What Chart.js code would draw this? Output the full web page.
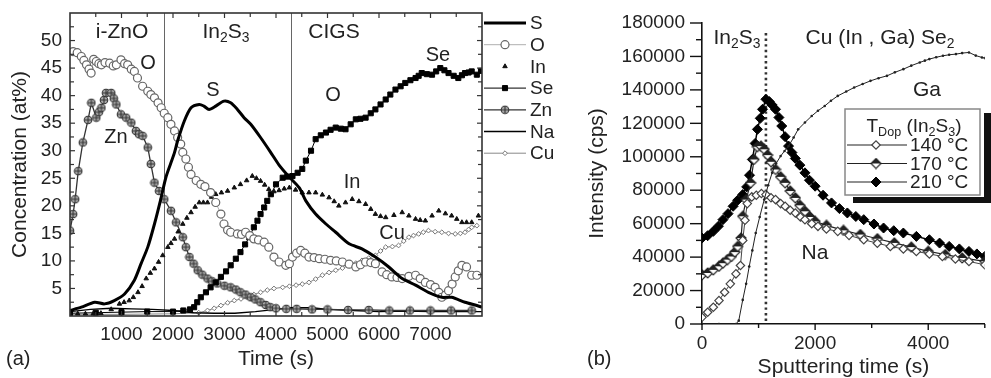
<!DOCTYPE html>
<html>
<head>
<meta charset="utf-8">
<script src="https://cdn.jsdelivr.net/npm/chart.js@4.4.0/dist/chart.umd.min.js"></script>
<style>
  html, body { margin: 0; padding: 0; background: #fff; }
  #wrap { position: relative; width: 991px; height: 378px; overflow: hidden; }
  #chartA { position: absolute; left: 0; top: 0; }
  #chartB { position: absolute; left: 580px; top: 0; }
</style>
</head>
<body>
<div id="wrap">
  <canvas id="chartA" width="560" height="378"></canvas>
  <canvas id="chartB" width="411" height="378"></canvas>
</div>
<script>
// ---- (a) depth profile, concentration (at%) vs time (s) ----
const S_pts = [[0,1.0],[220,1.6],[480,2.5],[670,2.2],[860,2.8],[1060,4.0],[1250,6.5],[1380,9.5],[1510,12.5],[1640,16.7],[1770,21.5],[1860,25.1],[1960,27.8],[2030,29.7],[2090,31.8],[2220,35.4],[2350,37.8],[2510,38.4],[2600,38.1],[2700,37.5],[2830,38.1],[2990,39.0],[3120,38.7],[3250,37.5],[3380,36.0],[3510,34.8],[3700,32.4],[3890,29.8],[4060,27.4],[4250,25.3],[4450,23.3],[4580,20.9],[4770,18.5],[4970,16.7],[5160,15.2],[5420,13.1],[5670,12.2],[5930,10.7],[6190,8.9],[6450,6.8],[6710,5.6],[6960,4.3],[7220,3.4],[7410,3.4],[7670,2.5],[7900,1.9],[8000,1.6]];
const O_pts = [[60,48.0],[140,47.8],[220,47.1],[270,46.4],[320,45.6],[370,44.8],[410,44.1],[460,46.6],[510,46.2],[560,45.8],[610,45.6],[680,46.0],[770,45.9],[840,45.4],[900,45.6],[990,46.5],[1060,45.8],[1120,45.6],[1190,44.8],[1250,44.4],[1310,43.2],[1410,41.7],[1510,40.8],[1570,40.2],[1640,39.6],[1710,38.7],[1770,37.8],[1830,36.8],[1900,36.0],[1960,34.8],[2030,33.6],[2090,32.4],[2150,31.2],[2190,29.7],[2250,28.5],[2300,27.0],[2350,25.7],[2450,24.6],[2540,23.9],[2620,23.5],[2730,22.4],[2830,20.6],[2930,18.5],[2990,16.7],[3060,15.6],[3120,15.2],[3250,14.9],[3330,14.8],[3410,15.2],[3490,14.6],[3570,14.0],[3660,13.8],[3770,13.4],[3860,12.5],[3960,10.7],[4060,9.8],[4190,9.2],[4260,9.5],[4320,10.7],[4400,11.4],[4480,11.9],[4560,11.4],[4640,10.7],[4740,10.6],[4840,10.4],[4950,10.3],[5060,10.1],[5170,10.0],[5290,9.8],[5420,9.4],[5550,8.9],[5640,9.3],[5740,9.8],[5840,9.7],[5930,9.5],[6060,8.0],[6150,7.5],[6250,7.1],[6350,7.0],[6450,6.8],[6580,7.2],[6710,7.4],[6800,6.8],[6900,6.1],[7000,5.7],[7090,5.2],[7160,4.3],[7220,3.4],[7290,3.8],[7350,4.6],[7420,5.8],[7480,7.1],[7540,8.2],[7610,9.2],[7700,8.9],[7800,7.4],[7900,7.4]];
const In_pts = [[0,0.4],[150,0.4],[300,0.4],[450,0.4],[600,0.5],[800,1.2],[960,2.2],[1050,2.5],[1150,2.8],[1230,3.4],[1320,4.3],[1400,5.4],[1480,6.8],[1560,7.8],[1640,8.6],[1720,9.8],[1800,11.0],[1900,12.5],[1960,13.2],[2030,14.0],[2100,15.3],[2190,16.7],[2270,17.8],[2350,18.8],[2430,19.8],[2510,20.6],[2590,20.6],[2670,20.6],[2750,21.6],[2830,22.1],[2940,22.4],[3060,22.7],[3190,23.3],[3310,23.9],[3430,24.6],[3540,25.4],[3620,25.0],[3700,24.5],[3780,23.8],[3860,23.0],[3960,22.6],[4060,22.8],[4160,23.1],[4260,23.3],[4380,22.9],[4510,22.4],[4640,22.4],[4770,22.4],[4900,22.0],[5030,21.5],[5130,20.8],[5220,20.0],[5350,20.6],[5480,21.2],[5610,20.8],[5740,20.3],[5840,19.4],[5930,18.5],[6030,18.1],[6130,17.9],[6290,18.3],[6450,18.8],[6580,18.2],[6710,17.6],[6800,17.4],[6900,17.3],[7030,18.2],[7160,19.1],[7290,18.6],[7410,18.2],[7510,17.6],[7610,17.0],[7700,17.0],[7800,17.0],[7930,18.2]];
const Se_pts = [[0,0.5],[500,0.6],[1000,0.7],[1500,0.8],[2000,0.8],[2200,1.0],[2330,1.2],[2410,1.6],[2470,2.5],[2540,3.4],[2640,4.3],[2730,5.2],[2830,6.1],[2930,7.1],[3030,8.1],[3120,9.2],[3220,10.4],[3310,11.6],[3400,13.0],[3480,14.3],[3570,16.1],[3640,17.3],[3700,18.5],[3770,19.7],[3830,20.9],[3900,22.1],[4000,23.9],[4130,25.1],[4220,25.3],[4320,25.4],[4420,26.0],[4510,26.7],[4580,28.2],[4680,30.0],[4770,32.1],[4870,32.8],[4970,33.3],[5060,33.8],[5160,34.2],[5260,34.0],[5350,33.9],[5450,34.8],[5550,35.7],[5640,35.8],[5740,36.0],[5840,36.8],[5930,37.5],[6030,38.4],[6130,39.3],[6220,40.2],[6320,41.1],[6420,41.7],[6510,42.3],[6610,42.8],[6710,43.2],[6770,43.6],[6830,44.1],[6930,43.9],[7030,43.8],[7110,44.4],[7190,45.0],[7270,44.6],[7350,44.1],[7450,43.6],[7540,43.2],[7610,43.7],[7670,44.1],[7740,44.2],[7800,44.4],[7900,43.8],[7980,44.5]];
const Zn_pts = [[0,15.5],[60,18.5],[100,21.2],[160,26.3],[250,31.5],[350,35.6],[415,38.7],[510,36.0],[560,37.0],[610,37.8],[660,39.2],[700,40.5],[800,40.5],[850,39.5],[900,38.4],[990,36.6],[1090,36.0],[1190,35.1],[1280,33.6],[1340,33.0],[1410,32.7],[1510,30.6],[1570,27.6],[1640,24.2],[1730,22.7],[1830,21.2],[1960,19.1],[2060,17.0],[2190,14.3],[2250,12.5],[2320,10.7],[2400,9.5],[2480,8.3],[2570,7.5],[2670,6.8],[2760,6.3],[2860,5.9],[3000,5.5],[3120,5.2],[3220,4.8],[3310,4.3],[3410,3.9],[3510,3.4],[3600,3.0],[3700,2.5],[3800,2.0],[3890,1.6],[4000,1.4],[4200,1.3],[4400,1.3],[4700,1.2],[5000,1.2],[5400,1.1],[5800,1.1],[6200,1.0],[6600,1.0],[7000,1.0],[7400,1.0],[7800,1.0]];
const Na_pts = [[0,0.8],[400,1.2],[800,1.4],[1200,1.3],[1600,1.2],[2000,1.0],[2400,0.6],[2800,0.5],[3200,0.5],[3600,0.8],[4000,1.2],[4300,1.5],[4700,1.5],[5000,1.2],[5500,1.0],[6000,0.8],[6500,0.9],[7000,0.8],[7500,0.8],[8000,0.8]];
const Cu_pts = [[0,0.3],[1000,0.3],[2000,0.4],[2500,0.6],[2670,1.0],[2800,1.4],[2930,1.9],[3060,2.4],[3190,2.8],[3320,3.1],[3440,3.4],[3570,3.9],[3700,4.3],[3830,4.7],[3960,5.0],[4130,5.2],[4260,5.4],[4390,5.6],[4510,5.8],[4640,6.1],[4770,6.7],[4900,7.4],[5030,7.9],[5160,8.3],[5290,8.7],[5420,9.2],[5550,9.6],[5670,10.1],[5800,10.5],[5930,11.0],[6030,11.8],[6130,12.5],[6260,12.6],[6380,12.8],[6480,13.6],[6580,14.3],[6670,14.6],[6770,14.9],[6860,15.2],[6960,15.5],[7090,15.3],[7220,15.2],[7350,15.0],[7480,14.9],[7580,15.0],[7670,15.2],[7740,15.7],[7800,16.1],[7900,16.4]];
const layerBounds = [1820, 4300];   // i-ZnO | In2S3 | CIGS

// ---- (b) Na / Ga intensity (cps) vs sputtering time (s) ----
const Ga_pts = [[0,0],[300,0],[600,0],[650,2000],[720,14400],[780,24000],[835,34400],[890,44000],[950,54400],[1020,64000],[1100,74400],[1170,83000],[1240,90400],[1310,96000],[1390,100400],[1460,103500],[1530,106400],[1620,111500],[1700,116400],[1820,120500],[1940,124400],[2050,127500],[2170,130400],[2280,133500],[2400,136400],[2550,139000],[2690,141400],[2840,143500],[2980,145400],[3120,147000],[3270,148400],[3410,150500],[3560,152400],[3700,154500],[3850,156400],[3940,157500],[4020,158400],[4140,159500],[4260,160400],[4370,161000],[4490,161400],[4600,162000],[4720,162400],[4840,160500],[4950,159400],[5000,159000]];
const Na140_pts = [[0,4000],[100,7000],[200,10000],[300,14000],[400,19000],[500,24000],[600,30000],[680,35000],[720,50000],[760,62000],[800,72000],[880,76000],[960,77000],[1050,78000],[1130,77400],[1220,75500],[1300,74400],[1390,72000],[1470,70400],[1560,68000],[1650,66400],[1740,64000],[1820,62400],[1940,60000],[2050,58400],[2200,56800],[2400,55400],[2600,53000],[2860,50400],[3100,48300],[3330,46400],[3560,44900],[3790,43400],[4020,41900],[4250,40400],[4480,38900],[4720,37400],[5000,35400]];
const Na170_pts = [[0,29400],[100,30500],[200,32400],[300,34500],[370,36400],[450,38500],[520,40400],[580,43000],[630,46400],[690,51400],[720,64400],[780,74400],[860,84400],[920,98400],[980,106000],[1040,106400],[1100,104500],[1160,101000],[1220,97000],[1300,92400],[1390,88000],[1470,84400],[1560,79500],[1650,75400],[1730,71000],[1820,67400],[1910,64000],[2000,61400],[2200,59000],[2500,56000],[2800,53500],[3100,51000],[3400,48500],[3700,46000],[4000,43500],[4300,41500],[4600,39500],[5000,37500]];
const Na210_pts = [[0,51400],[100,52800],[200,55400],[290,58500],[370,62400],[460,66000],[550,70400],[630,74000],[720,77400],[790,82000],[840,89000],[890,98400],[940,108000],[980,116400],[1030,123000],[1070,128400],[1130,134400],[1190,133000],[1240,131000],[1300,128400],[1360,123500],[1410,118400],[1470,112000],[1530,106400],[1590,102500],[1650,99000],[1730,95000],[1820,90400],[1900,86000],[2000,82400],[2140,77000],[2290,72400],[2430,69000],[2570,66400],[2720,64300],[2860,62400],[3040,59800],[3210,57400],[3390,55800],[3560,54400],[3790,52400],[4020,50400],[4200,48400],[4370,46400],[4550,44900],[4720,43400],[4860,41900],[5000,40400]];
const interfaceB = [1130];

const FONT = '"Liberation Sans", Arial, Helvetica, sans-serif';
const fnt = s => `${s}px ${FONT}`;
const toXY = pts => pts.map(([x, y]) => ({ x, y }));

Chart.defaults.font.family = FONT;
Chart.defaults.color = '#222';
Chart.defaults.animation = false;

function markerCanvas(size, paint) {
  const c = document.createElement('canvas');
  c.width = size; c.height = size;
  paint(c.getContext('2d'), size / 2);
  return c;
}
const znMarker = markerCanvas(10, (g, h) => {
  g.beginPath(); g.arc(h, h, 3.8, 0, Math.PI * 2);
  g.fillStyle = '#aaa'; g.fill();
  g.strokeStyle = '#333'; g.lineWidth = 1.1; g.stroke();
  g.beginPath(); g.moveTo(h - 3.5, h); g.lineTo(h + 3.5, h); g.moveTo(h, h - 3.5); g.lineTo(h, h + 3.5); g.stroke();
});
const halfDiamond = markerCanvas(12, (g, h) => {
  const r = 5;
  const dia = () => { g.beginPath(); g.moveTo(h, h - r); g.lineTo(h + r, h); g.lineTo(h, h + r); g.lineTo(h - r, h); g.closePath(); };
  dia(); g.fillStyle = '#fff'; g.fill();
  g.beginPath(); g.moveTo(h, h - r); g.lineTo(h + r, h); g.lineTo(h - r, h); g.closePath(); g.fillStyle = '#222'; g.fill();
  dia(); g.strokeStyle = '#222'; g.lineWidth = 1.2; g.stroke();
});

function drawMarker(ctx, ds, x, y) {
  if (!ds.pointRadius) return;
  ctx.save();
  ctx.fillStyle = ds.pointBackgroundColor;
  ctx.strokeStyle = ds.pointBorderColor;
  ctx.lineWidth = ds.pointBorderWidth;
  Chart.helpers.drawPoint(ctx, { pointStyle: ds.pointStyle, radius: ds.pointRadius, borderWidth: ds.pointBorderWidth, rotation: 0 }, x, y);
  ctx.restore();
}

// text with subscripts: parts = [[text, isSub], ...]
function rich(ctx, parts, x, y, size, align) {
  const sub = size * 0.66;
  let w = 0;
  parts.forEach(([t, s]) => { ctx.font = fnt(s ? sub : size); w += ctx.measureText(t).width; });
  let cx = align === 'center' ? x - w / 2 : x;
  ctx.textAlign = 'left'; ctx.textBaseline = 'middle'; ctx.fillStyle = '#222';
  parts.forEach(([t, s]) => {
    ctx.font = fnt(s ? sub : size);
    ctx.fillText(t, cx, s ? y + size * 0.3 : y);
    cx += ctx.measureText(t).width;
  });
}

function line(ctx, x1, y1, x2, y2) { ctx.beginPath(); ctx.moveTo(x1, y1); ctx.lineTo(x2, y2); ctx.stroke(); }

// fixed axis boxes so the plot areas land where the figure has them
const fixX = h => s => { s.height = h; s.paddingLeft = 0; s.paddingRight = 0; };
const fixY = w => s => { s.width = w; s.paddingTop = 0; s.paddingBottom = 0; };

// ---------- chart (a) ----------
const framePlugin = {
  id: 'frameA',
  beforeDatasetsDraw(chart) {
    const { ctx, chartArea: a, scales: { x } } = chart;
    ctx.save();
    ctx.strokeStyle = '#666'; ctx.lineWidth = 1;
    layerBounds.forEach(t => { const px = Math.round(x.getPixelForValue(t)) + 0.5; line(ctx, px, a.top, px, a.bottom); });
    ctx.restore();
  },
  afterDraw(chart) {
    const { ctx, chartArea: a, scales: { x, y } } = chart;
    ctx.save();
    ctx.strokeStyle = '#333'; ctx.lineWidth = 1.2;
    for (let v = 500; v < 8000; v += 500) {
      const px = x.getPixelForValue(v), len = v % 1000 === 0 ? 5 : 4;
      line(ctx, px, a.top, px, a.top + len);
      line(ctx, px, a.bottom, px, a.bottom - len);
    }
    for (let v = 2.5; v < 55; v += 2.5) {
      const py = y.getPixelForValue(v), len = v % 5 === 0 ? 5 : 4;
      line(ctx, a.left, py, a.left + len, py);
      line(ctx, a.right, py, a.right - len, py);
    }
    ctx.lineWidth = 1.6; ctx.strokeStyle = '#333';
    ctx.strokeRect(a.left, a.top, a.right - a.left, a.bottom - a.top);

    rich(ctx, [['i-ZnO']], 122, 32, 21, 'center');
    rich(ctx, [['In'], ['2', 1], ['S'], ['3', 1]], 226, 32, 21, 'center');
    rich(ctx, [['CIGS']], 334, 32, 21, 'center');
    rich(ctx, [['O']], 148, 63, 20, 'center');
    rich(ctx, [['S']], 213, 90, 20, 'center');
    rich(ctx, [['Zn']], 116, 137, 20, 'center');
    rich(ctx, [['O']], 333, 95, 20, 'center');
    rich(ctx, [['Se']], 438, 55, 20, 'center');
    rich(ctx, [['In']], 352, 182, 20, 'center');
    rich(ctx, [['Cu']], 392, 233, 20, 'center');
    rich(ctx, [['(a)']], 6, 359, 20, 'left');

    // legend
    chart.data.datasets.forEach((ds, i) => {
      const ly = 23 + i * 21.7;
      if (ds.showLine !== false) {
        ctx.strokeStyle = ds.borderColor; ctx.lineWidth = ds.borderWidth;
        line(ctx, 484, ly, 526, ly);
      }
      drawMarker(ctx, ds, 505, ly);
      ctx.fillStyle = '#222'; ctx.font = fnt(19); ctx.textAlign = 'left'; ctx.textBaseline = 'middle';
      ctx.fillText(ds.label, 530, ly + 1);
    });
    ctx.restore();
  }
};

new Chart(document.getElementById('chartA'), {
  type: 'line',
  data: {
    datasets: [
      { label: 'S', data: toXY(S_pts), borderColor: '#000', borderWidth: 3, pointRadius: 0, tension: 0.25 },
      { label: 'O', data: toXY(O_pts), borderColor: '#999', borderWidth: 0.8, pointStyle: 'circle', pointRadius: 4, pointBackgroundColor: '#fff', pointBorderColor: '#666', pointBorderWidth: 1.2 },
      { label: 'In', data: toXY(In_pts), showLine: false, borderColor: '#111', pointStyle: 'triangle', pointRadius: 2.6, pointBackgroundColor: '#111', pointBorderColor: '#111', pointBorderWidth: 1 },
      { label: 'Se', data: toXY(Se_pts), borderColor: '#000', borderWidth: 1, pointStyle: 'rect', pointRadius: 3.6, pointBackgroundColor: '#000', pointBorderColor: '#000', pointBorderWidth: 1 },
      { label: 'Zn', data: toXY(Zn_pts), borderColor: '#333', borderWidth: 1.3, pointStyle: znMarker, pointRadius: 4, pointBackgroundColor: '#aaa', pointBorderColor: '#333', pointBorderWidth: 1 },
      { label: 'Na', data: toXY(Na_pts), borderColor: '#000', borderWidth: 1.4, pointRadius: 0 },
      { label: 'Cu', data: toXY(Cu_pts), borderColor: '#888', borderWidth: 1, pointStyle: 'rectRot', pointRadius: 2.4, pointBackgroundColor: '#fff', pointBorderColor: '#777', pointBorderWidth: 1 }
    ]
  },
  options: {
    responsive: false,
    layout: { padding: { top: 13, right: 78, left: 0, bottom: 0 } },
    plugins: { legend: { display: false }, tooltip: { enabled: false } },
    scales: {
      x: {
        type: 'linear', min: 0, max: 8000,
        grid: { display: false, drawTicks: false }, border: { display: false },
        ticks: { stepSize: 1000, padding: 7, font: { size: 19 }, color: '#222', maxRotation: 0,
          callback: v => (v > 0 && v < 8000) ? String(v) : '' },
        title: { display: true, text: 'Time (s)', font: { size: 21, lineHeight: 1 }, color: '#222', padding: { top: 0, bottom: 8 } },
        afterFit: fixX(62)
      },
      y: {
        min: 0, max: 55,
        grid: { display: false, drawTicks: false }, border: { display: false },
        ticks: { stepSize: 5, padding: 8, font: { size: 19 }, color: '#222',
          callback: v => (v > 0 && v < 55) ? String(v) : '' },
        title: { display: true, text: 'Concentration (at%)', font: { size: 21, lineHeight: 1 }, color: '#222', padding: { top: 9.5, bottom: 0 } },
        afterFit: fixY(70)
      }
    }
  },
  plugins: [framePlugin]
});

// ---------- chart (b) ----------
const axesPlugin = {
  id: 'axesB',
  beforeDatasetsDraw(chart) {
    const { ctx, chartArea: a, scales: { x } } = chart;
    ctx.save();
    ctx.strokeStyle = '#333'; ctx.lineWidth = 2.6; ctx.setLineDash([2.4, 3.2]);
    interfaceB.forEach(t => { const px = x.getPixelForValue(t); line(ctx, px, 33, px, a.bottom); });
    ctx.restore();
  },
  afterDraw(chart) {
    const { ctx, chartArea: a, scales: { x, y } } = chart;
    ctx.save();
    ctx.strokeStyle = '#111'; ctx.lineWidth = 1.4;
    for (let v = 0; v <= 180000; v += 10000) {
      const py = y.getPixelForValue(v), len = v % 20000 === 0 ? 12 : 6;
      line(ctx, a.left, py, a.left - len, py);
    }
    for (let v = 0; v <= 5000; v += 1000) {
      const px = x.getPixelForValue(v), len = v % 2000 === 0 ? 6 : 4;
      line(ctx, px, a.bottom, px, a.bottom + len);
    }

    rich(ctx, [['In'], ['2', 1], ['S'], ['3', 1]], 157, 38, 21, 'center');
    rich(ctx, [['Cu (In , Ga) Se'], ['2', 1]], 300, 38, 21, 'center');
    rich(ctx, [['Ga']], 347, 90, 21, 'center');
    rich(ctx, [['Na']], 235, 253, 21, 'center');
    rich(ctx, [['(b)']], 7, 359, 20, 'left');

    // legend box with shadow
    ctx.fillStyle = '#111'; ctx.fillRect(273, 113, 140, 90);
    ctx.fillStyle = '#fff'; ctx.fillRect(263, 107, 141, 90);
    ctx.strokeStyle = '#888'; ctx.lineWidth = 1.5; ctx.strokeRect(265, 109, 135, 86);
    rich(ctx, [['T'], ['Dop', 1], [' (In'], ['2', 1], ['S'], ['3', 1], [')']], 334, 127, 19, 'center');
    chart.data.datasets.slice(1).forEach((ds, i) => {
      const ly = 145 + i * 18.5;
      ctx.strokeStyle = '#222'; ctx.lineWidth = 1.2;
      line(ctx, 267, ly, 327, ly);
      drawMarker(ctx, ds, 296, ly);
      ctx.fillStyle = '#222'; ctx.font = fnt(19); ctx.textAlign = 'left'; ctx.textBaseline = 'middle';
      ctx.fillText(ds.label, 330, ly + 1);
    });
    ctx.restore();
  }
};

new Chart(document.getElementById('chartB'), {
  type: 'line',
  data: {
    datasets: [
      { label: 'Ga', data: toXY(Ga_pts), borderColor: '#222', borderWidth: 1, pointStyle: 'circle', pointRadius: 1.3, pointBackgroundColor: '#222', pointBorderColor: '#222', pointBorderWidth: 0 },
      { label: '140 °C', data: toXY(Na140_pts), borderColor: '#444', borderWidth: 1, pointStyle: 'rectRot', pointRadius: 4.2, pointBackgroundColor: '#fff', pointBorderColor: '#444', pointBorderWidth: 1.2 },
      { label: '170 °C', data: toXY(Na170_pts), borderColor: '#222', borderWidth: 1.2, pointStyle: halfDiamond, pointRadius: 5, pointBackgroundColor: '#888', pointBorderColor: '#222', pointBorderWidth: 1.2 },
      { label: '210 °C', data: toXY(Na210_pts), borderColor: '#000', borderWidth: 1.5, pointStyle: 'rectRot', pointRadius: 5, pointBackgroundColor: '#000', pointBorderColor: '#000', pointBorderWidth: 1 }
    ]
  },
  options: {
    responsive: false,
    layout: { padding: { top: 23, right: 0, left: 0, bottom: 0 } },
    plugins: { legend: { display: false }, tooltip: { enabled: false } },
    scales: {
      x: {
        type: 'linear', min: 0, max: 5000,
        grid: { display: false, drawTicks: false }, border: { display: true, color: '#111', width: 1.6 },
        ticks: { stepSize: 1000, padding: 8, font: { size: 19 }, color: '#222', maxRotation: 0,
          callback: v => (v % 2000 === 0 && v < 5000) ? String(v) : '' },
        title: { display: true, text: 'Sputtering time (s)', font: { size: 21, lineHeight: 1 }, color: '#222', padding: { top: 0, bottom: 0.5 } },
        afterFit: fixX(54)
      },
      y: {
        min: 0, max: 180000,
        grid: { display: false, drawTicks: false }, border: { display: true, color: '#111', width: 1.6 },
        ticks: { stepSize: 20000, padding: 17, font: { size: 19 }, color: '#222', callback: v => String(v) },
        title: { display: true, text: 'Intensity (cps)', font: { size: 21, lineHeight: 1 }, color: '#222', padding: { top: 6.5, bottom: 0 } },
        afterFit: fixY(122)
      }
    }
  },
  plugins: [axesPlugin]
});
</script>
</body>
</html>
